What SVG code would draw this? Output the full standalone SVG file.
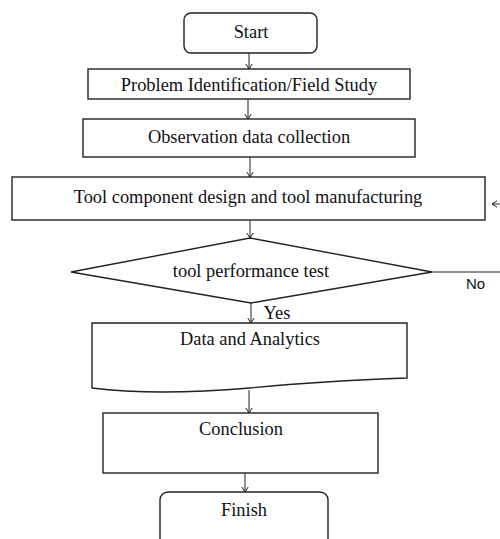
<svg xmlns="http://www.w3.org/2000/svg" width="500" height="539" viewBox="0 0 500 539">
  <style>
    .box { fill: #ffffff; stroke: #222222; stroke-width: 1.4; }
    .lbl { font-family: "Liberation Serif", "Times New Roman", serif; font-size: 18.4px; fill: #111111; text-anchor: middle; }
    .side { font-family: "Liberation Sans", Arial, sans-serif; font-size: 15px; fill: #111111; }
    .link { fill: none; stroke: #222222; stroke-width: 1; }
  </style>
  <defs>
    <marker id="arrow" markerWidth="8" markerHeight="8" refX="5" refY="4" orient="auto" markerUnits="userSpaceOnUse">
      <path d="M0,0.8 L5,4 L0,7.2" fill="none" stroke="#222222" stroke-width="1"/>
    </marker>
  </defs>
  <rect width="500" height="539" fill="#ffffff"/>

  <!-- flow links -->
  <g id="connectors">
    <line class="link" x1="249" y1="53" x2="249" y2="69" marker-end="url(#arrow)"/>
    <line class="link" x1="248" y1="99" x2="248" y2="119" marker-end="url(#arrow)"/>
    <line class="link" x1="250" y1="157" x2="250" y2="177" marker-end="url(#arrow)"/>
    <line class="link" x1="250" y1="220" x2="250" y2="238" marker-end="url(#arrow)"/>
    <line class="link" x1="251" y1="303" x2="251" y2="323" marker-end="url(#arrow)"/>
    <line class="link" x1="249" y1="390" x2="249" y2="413" marker-end="url(#arrow)"/>
    <line class="link" x1="245" y1="473" x2="245" y2="492" marker-end="url(#arrow)"/>
    <!-- "No" branch loops back to the design step -->
    <line class="link" x1="432" y1="272" x2="500" y2="272"/>
    <line class="link" x1="500" y1="204" x2="492" y2="204" marker-end="url(#arrow)"/>
    <text class="side" x="466" y="289">No</text>
    <text class="lbl" x="277" y="319">Yes</text>
  </g>

  <g id="start">
    <rect class="box" x="184" y="13" width="133" height="40" rx="7"/>
    <text class="lbl" x="251" y="38">Start</text>
  </g>

  <g id="problem">
    <rect class="box" x="88" y="69" width="322" height="30"/>
    <text class="lbl" x="249" y="91">Problem Identification/Field Study</text>
  </g>

  <g id="observation">
    <rect class="box" x="83" y="119" width="332" height="38"/>
    <text class="lbl" x="249" y="143">Observation data collection</text>
  </g>

  <g id="design">
    <rect class="box" x="12" y="177" width="473" height="43"/>
    <text class="lbl" x="248" y="203">Tool component design and tool manufacturing</text>
  </g>

  <g id="test">
    <polygon class="box" points="250,238 432,272 251,303 71,272"/>
    <text class="lbl" x="251" y="277">tool performance test</text>
  </g>

  <g id="data">
    <path class="box" d="M92,323 H407 V378 C350,380 300,383 250,388 C190,393 140,394 92,388 Z"/>
    <text class="lbl" x="250" y="345">Data and Analytics</text>
  </g>

  <g id="conclusion">
    <rect class="box" x="103" y="413" width="275" height="60"/>
    <text class="lbl" x="241" y="435">Conclusion</text>
  </g>

  <g id="finish">
    <rect class="box" x="160" y="492" width="168" height="60" rx="8"/>
    <text class="lbl" x="244" y="516">Finish</text>
  </g>
</svg>
